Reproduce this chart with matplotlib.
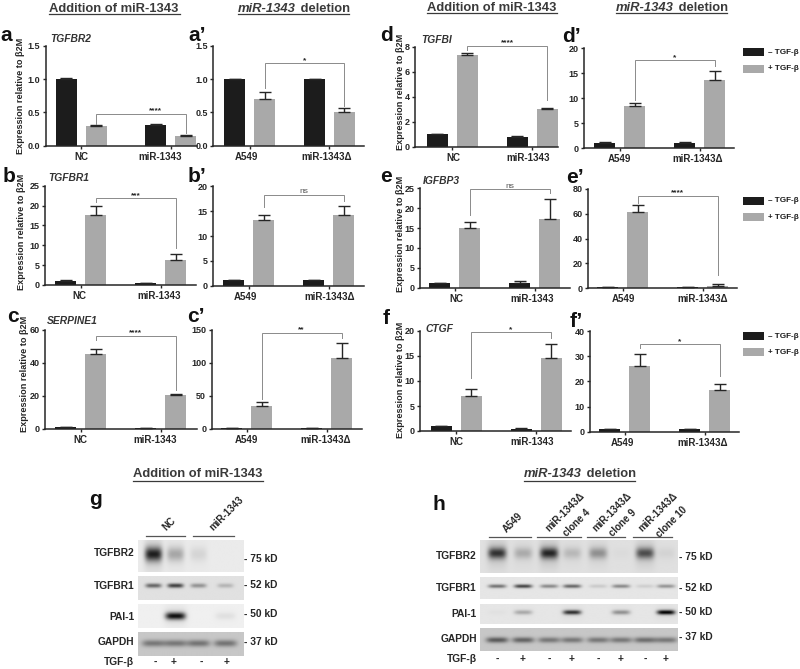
import numpy as np
import matplotlib
matplotlib.use("Agg")
import matplotlib.pyplot as plt
from matplotlib.lines import Line2D
from matplotlib.patches import Rectangle

plt.rcParams['font.family'] = ['Liberation Sans', 'DejaVu Sans']
W, H = 800, 669
INK = '#262626'
BLACK = '#1c1c1c'
GREY = '#a9a9a9'

# ---------- data ----------
nc_groups = ['NC', 'miR-1343']
del_groups = ['A549', 'miR-1343\u0394']

a_vals = [1.0, 0.29, 0.31, 0.15];   a_errs = [0.01, 0.015, 0.01, 0.005]
a2_vals = [1.0, 0.70, 1.0, 0.51];   a2_errs = [0, 0.10, 0, 0.06]
b_vals = [1.1, 17.5, 0.5, 6.4];     b_errs = [0.1, 2.3, 0.1, 1.5]
b2_vals = [1.1, 13.2, 1.1, 14.2];   b2_errs = [0.05, 1.1, 0.05, 1.8]
c_vals = [1.0, 45.5, 0.8, 20.5];    c_errs = [0.1, 3.0, 0.1, 0.8]
c2_vals = [1.0, 35, 1.0, 108];      c2_errs = [0.2, 6, 0.2, 22]
d_vals = [1.0, 7.3, 0.8, 3.05];     d_errs = [0.02, 0.2, 0.03, 0.07]
d2_vals = [1.1, 8.5, 1.1, 13.7];    d2_errs = [0.05, 0.5, 0.05, 1.8]
e_vals = [1.1, 15.0, 1.2, 17.4];    e_errs = [0.1, 1.5, 0.4, 4.9]
e2_vals = [0.8, 61.5, 0.7, 2.0];    e2_errs = [0.1, 6, 0.1, 1.2]
f_vals = [1.0, 7.1, 0.5, 14.6];     f_errs = [0.05, 1.4, 0.05, 2.7]
f2_vals = [1.0, 26.2, 0.9, 16.6];   f2_errs = [0.05, 4.6, 0.05, 2.6]

g_rows = ['TGFBR2', 'TGFBR1', 'PAI-1', 'GAPDH']
g_sizes = ['- 75 kD', '- 52 kD', '- 50 kD', '- 37 kD']
g_tgfbr2 = [0.75, 0.25, 0.08, 0.0]
g_tgfbr1 = [0.55, 0.72, 0.35, 0.20]
g_pai1 = [0.0, 0.85, 0.0, 0.06]
g_gapdh = [0.40, 0.40, 0.42, 0.42]
h_tgfbr2 = [0.65, 0.20, 0.70, 0.15, 0.30, 0.02, 0.55, 0.05]
h_tgfbr1 = [0.50, 0.70, 0.40, 0.55, 0.12, 0.40, 0.10, 0.35]
h_pai1 = [0.02, 0.25, 0.0, 0.75, 0.0, 0.35, 0.0, 0.95]
h_gapdh = [0.55, 0.50, 0.40, 0.40, 0.40, 0.40, 0.45, 0.40]
g_signs = ['-', '+', '-', '+']
h_signs = ['-', '+', '-', '+', '-', '+', '-', '+']

# ---------- helpers ----------
BAR_STEP = 30.0


def ftext(x, y, s, **kw):
    kw.setdefault('color', INK)
    return fig.text(x / W, 1 - y / H, s, **kw)


def fline(x0, x1, y0, y1, color=INK, lw=1.0):
    fig.add_artist(Line2D([x0 / W, x1 / W], [1 - y0 / H, 1 - y1 / H],
                          color=color, lw=lw, transform=fig.transFigure))


def panel(box, first, vals, errs, groups, label_px, ymax, yticks, yfmt, bracket, star,
          offset=80.0, star_px=None, star_dy=3.0):
    L, R, B, T = box
    gap = offset / BAR_STEP
    positions = np.array([0, 1, gap, gap + 1])
    ax = fig.add_axes([L / W, 1 - B / H, (R - L) / W, (B - T) / H])
    ax.set_xlim((L - first) / BAR_STEP, (R - first) / BAR_STEP)
    ax.set_ylim(0, ymax)
    ax.bar(positions, vals, width=0.70, color=[BLACK, GREY, BLACK, GREY], linewidth=0)
    ax.errorbar(positions, vals, yerr=[np.zeros(4), errs], fmt='none',
                ecolor=INK, elinewidth=1.0, capsize=4, capthick=1.0)
    for s in ('top', 'right'):
        ax.spines[s].set_visible(False)
    for s in ('left', 'bottom'):
        ax.spines[s].set_linewidth(1.1)
        ax.spines[s].set_color(INK)
    ax.set_xticks([0.5, gap + 0.5])
    ax.set_xticklabels([])
    for s, px in zip(groups, label_px):
        ftext(px, B + 11, s, ha='center', va='center', fontsize=7.0, fontweight='bold')
    ax.set_yticks(yticks)
    ax.set_yticklabels([yfmt.format(t) for t in yticks], fontsize=6.5,
                       fontweight='bold', color=INK)
    ax.tick_params(axis='both', length=2.5, width=1.0, pad=1.5, color=INK)
    top, left_end, right_end = bracket
    ax.plot([1, 1, gap + 1, gap + 1], [left_end, top, top, right_end], color='#8a8a8a',
            lw=0.7, clip_on=False, solid_joinstyle='miter')
    sx = (1 + gap + 1) / 2 if star_px is None else (star_px - first) / BAR_STEP
    ax.annotate(star, (sx, top), xytext=(0, star_dy * 0.72), textcoords='offset points',
                ha='center', va='center', fontsize=6,
                fontweight='normal' if star == 'ns' else 'bold',
                color='#555555' if star == 'ns' else INK, annotation_clip=False)
    return ax


def blot(box, rows, lanes):
    L, R, T, B = box
    ax = fig.add_axes([L / W, 1 - B / H, (R - L) / W, (B - T) / H])
    ys, xs = np.mgrid[T:B:complex(0, int((B - T) * 2)), L:R:complex(0, int((R - L) * 2))]
    img = np.full(xs.shape, rows['bg'], float)
    for lane, val in zip(lanes, rows['vals']):
        dx = (xs - lane) / rows['sx']
        dy = (ys - rows['y']) / rows['sy']
        img -= val * rows['bg'] * np.exp(-dx ** 4 - dy ** 2)
        if rows.get('halo'):
            img -= rows['halo'] * val * np.exp(-(dx / 1.15) ** 4 - (dy / 2.6) ** 2)
    ax.imshow(img, cmap='gray', vmin=0, vmax=1, aspect='auto',
              extent=[L, R, B, T], interpolation='bilinear')
    ax.axis('off')


fig = plt.figure(figsize=(W / 100, H / 100), dpi=100, facecolor='white')

# ---------- bar panels ----------
panel((45.7, 197, 145.7, 45.7), 66.2, a_vals, a_errs, nc_groups, (81, 160), 1.5, [0, .5, 1, 1.5], '{:.1f}', (0.475, 0.325, 0.19), '****', offset=89.3, star_px=155)
panel((213.3, 364, 145.7, 45.7), 234.5, a2_vals, a2_errs, del_groups, (246.7, 326.7), 1.5, [0, .5, 1, 1.5], '{:.1f}', (1.235, 0.87, 0.60), '*')
panel((45, 196, 285, 185.7), 65.5, b_vals, b_errs, nc_groups, (79, 158.7), 25, [0, 5, 10, 15, 20, 25], '{:d}', (21.8, 21, 9.2), '***')
panel((213.3, 364, 285.7, 186.3), 233.8, b2_vals, b2_errs, del_groups, (245.7, 330), 20, [0, 5, 10, 15, 20], '{:d}', (18.25, 15.8, 17.1), 'ns')
panel((45, 197, 429, 329.7), 65.5, c_vals, c_errs, nc_groups, (80, 154.7), 60, [0, 20, 40, 60], '{:d}', (56.1, 53.7, 23.5), '****')
panel((211.7, 362, 429, 329.7), 231.5, c2_vals, c2_errs, del_groups, (246, 326), 150, [0, 50, 100, 150], '{:d}', (145, 46, 137), '**')
panel((415, 558, 146.7, 46.7), 437, d_vals, d_errs, nc_groups, (453, 527.7), 8, [0, 2, 4, 6, 8], '{:d}', (8.08, 7.7, 3.7), '****')
panel((584, 734, 148, 48.3), 604.5, d2_vals, d2_errs, del_groups, (619, 698), 20, [0, 5, 10, 15, 20], '{:d}', (17.6, 9.7, 16.4), '*')
panel((420, 570, 287.7, 188.3), 439.8, e_vals, e_errs, nc_groups, (456.7, 531.7), 25, [0, 5, 10, 15, 20, 25], '{:d}', (24.75, 18.3, 23.9), 'ns')
panel((588, 737, 288.3, 189), 607.5, e2_vals, e2_errs, del_groups, (623, 702.7), 80, [0, 20, 40, 60, 80], '{:d}', (74.4, 68.5, 10.7), '****')
panel((420, 571, 431, 331), 441, f_vals, f_errs, nc_groups, (456.7, 531.7), 20, [0, 5, 10, 15, 20], '{:d}', (19.7, 10.5, 18.5), '*')
panel((590, 739, 431.7, 331.3), 609.5, f2_vals, f2_errs, del_groups, (622.7, 702.7), 40, [0, 10, 20, 30, 40], '{:d}', (34.8, 33.2, 22), '*')

# y labels
YLAB = 'Expression relative to \u03b22M'
for x, y in [(21, 96), (22, 232), (25, 374), (400.5, 92), (400.5, 234), (400.5, 380)]:
    ftext(x, y, YLAB, rotation=90, ha='center', va='center', fontsize=6.6, fontweight='bold')

# panel letters
for s, x, y in [('a', 0, 40.7), ('a\u2019', 188, 40.7), ('d', 380, 40.7), ('d\u2019', 562, 42),
                ('b', 3, 181.7), ('b\u2019', 188, 181.7), ('e', 380, 181.7), ('e\u2019', 566, 183),
                ('c', 7, 321.7), ('c\u2019', 187, 321.7), ('f', 383, 324), ('f\u2019', 570, 327),
                ('g', 89, 505), ('h', 432, 510)]:
    ftext(x, y, s, fontsize=15, fontweight='bold', ha='left', va='baseline', color='#111111')

# gene names
for s, x, y in [('TGFBR2', 50, 41.7), ('TGFBR1', 48, 180.7), ('SERPINE1', 47, 324),
                ('TGFBI', 421, 43), ('IGFBP3', 423, 184), ('CTGF', 426, 332)]:
    ftext(x, y, s, fontsize=7.4, fontstyle='italic', fontweight='bold', ha='left', va='baseline', color='#333333')


# headings
def head_add(x0, x1, y, uy):
    ftext(x0, y, 'Addition of miR-1343', fontsize=9.4, fontweight='bold', ha='left', va='baseline', color='#3a3a3a')
    fline(x0, x1, uy, uy, color='#3a3a3a', lw=0.9)


def head_del(x0, x1, split, y, uy):
    ftext(x0, y, 'miR-1343', fontsize=9.4, fontweight='bold', fontstyle='italic', ha='left', va='baseline', color='#3a3a3a')
    ftext(split, y, ' deletion', fontsize=9.4, fontweight='bold', ha='left', va='baseline', color='#3a3a3a')
    fline(x0, x1, uy, uy, color='#3a3a3a', lw=0.9)


head_add(49, 180, 12, 14)
head_del(238, 349, 297, 12, 14)
head_add(427, 557, 11, 13)
head_del(616, 727, 675, 11, 13)
head_add(133, 263, 477, 481)
head_del(524, 635, 583, 477, 481)

# legends
for y0 in (52, 200.7, 336):
    for dy, col, lab in [(0, BLACK, '\u2013 TGF-\u03b2'), (16.5, GREY, '+ TGF-\u03b2')]:
        fig.add_artist(Rectangle((743 / W, 1 - (y0 + dy + 4) / H), 21 / W, 8 / H,
                                 color=col, lw=0, transform=fig.transFigure))
        ftext(768, y0 + dy, lab, fontsize=5.9, fontweight='bold', ha='left', va='center', color='#1a1a1a')

# ---------- blots ----------
g_lanes = [153, 175, 198, 225]
for box, spec in [
    ((137.7, 243.3, 540, 571.7), dict(bg=.92, vals=g_tgfbr2, y=554, sx=8.5, sy=7, halo=.15)),
    ((137.7, 243.3, 575.7, 600), dict(bg=.88, vals=g_tgfbr1, y=586, sx=8, sy=2.2)),
    ((137.7, 243.3, 604.3, 627.7), dict(bg=.94, vals=g_pai1, y=616, sx=10, sy=3.6, halo=.1)),
    ((137.7, 243.3, 631.7, 655.7), dict(bg=.78, vals=g_gapdh, y=643, sx=11.5, sy=3.5)),
]:
    blot(box, spec, g_lanes)

h_lanes = [497, 523, 549, 572, 598, 621, 645, 666]
for box, spec in [
    ((480, 677.7, 540, 572.7), dict(bg=.88, vals=h_tgfbr2, y=553, sx=9, sy=5.5, halo=.18)),
    ((480, 677.7, 576.7, 599.3), dict(bg=.90, vals=h_tgfbr1, y=586.7, sx=9, sy=1.9)),
    ((480, 677.7, 603.7, 624), dict(bg=.90, vals=h_pai1, y=612.7, sx=9, sy=2.2, halo=.06)),
    ((480, 677.7, 628.3, 650.7), dict(bg=.78, vals=h_gapdh, y=640, sx=11, sy=2.8)),
]:
    blot(box, spec, h_lanes)

BL = dict(fontsize=7.4, fontweight='bold', va='center')
for s, y in zip(g_rows + ['TGF-\u03b2'], [552.7, 586, 616.7, 642, 662]):
    ftext(134, y, s, ha='right', **BL)
for s, y in zip(g_sizes, [559, 585, 614, 642]):
    ftext(244, y, s, ha='left', **BL)
for s, x in zip(g_signs, [155, 174, 201, 227]):
    ftext(x, 662, s, ha='center', **BL)
for x0, x1 in [(146, 185), (193, 234)]:
    fline(x0, x1, 536, 536, color='#555555', lw=0.9)
ftext(169, 524, 'NC', rotation=45, ha='center', va='center', fontsize=7, fontweight='bold')
ftext(227, 513, 'miR-1343', rotation=45, ha='center', va='center', fontsize=7, fontweight='bold')

for s, y in zip(g_rows + ['TGF-\u03b2'], [555.7, 588, 614, 639, 659]):
    ftext(477, y, s, ha='right', **BL)
for s, y in zip(g_sizes, [557, 588, 612, 637]):
    ftext(679, y, s, ha='left', **BL)
for s, x in zip(h_signs, h_lanes):
    ftext(x, 659, s, ha='center', **BL)
for x0, x1 in [(489, 531), (537, 581), (587, 625), (633, 672)]:
    fline(x0, x1, 536.7, 536.7, color='#555555', lw=0.9)
for s, x, y in [('A549', 513, 523), ('miR-1343\u0394', 565, 512), ('clone 4', 577, 523),
                ('miR-1343\u0394', 612, 512), ('clone 9', 623, 523),
                ('miR-1343\u0394', 658, 512), ('clone 10', 672, 522)]:
    ftext(x, y, s, rotation=45, ha='center', va='center', fontsize=7, fontweight='bold')

fig.savefig('out.png', dpi=100, facecolor='white')
